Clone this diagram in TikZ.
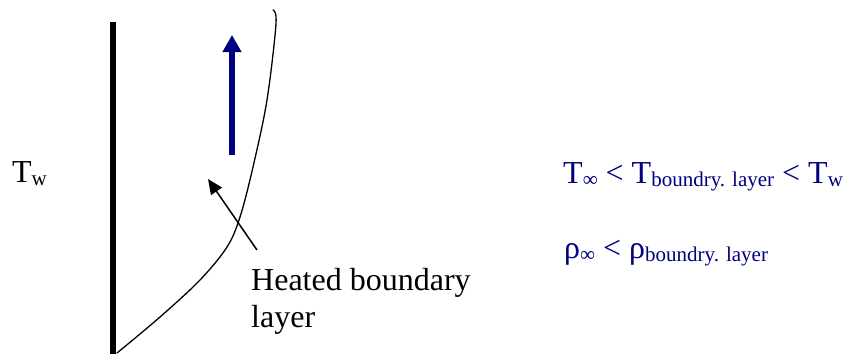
\documentclass[tikz,border=0pt]{standalone}
\usepackage{fontspec}
\setmainfont{Liberation Serif}
\usetikzlibrary{arrows.meta}
\definecolor{flowblue}{RGB}{0,0,128}
\newcommand{\lsub}[1]{\raisebox{-3pt}{\fontsize{21}{21}\selectfont #1}}
\begin{document}
\begin{tikzpicture}[x=1pt,y=-1pt,line join=round,font=\fontsize{32}{37}\selectfont,
  lbl/.style={inner sep=0pt,anchor=base west}]
\useasboundingbox (0,0) rectangle (847,354);
% wall and boundary layer edge
\draw[line width=6pt] (113,22) -- (113,354);
\draw[line width=1.3pt,line cap=round] plot[smooth,tension=0.55] coordinates
  {(273,10) (276,24) (267,100) (253,167) (240,217) (227,247) (200,280) (160,317) (117,353)};
% rising flow
\coordinate (flowlow) at (232,155);
\coordinate (flowtop) at (232,35);
\draw[flowblue,line width=6.5pt,-{Triangle[width=18pt,length=17pt]}] (flowlow) -- (flowtop);
% labels
\node[lbl] (tw) at (12,182) {T\lsub{w}};
\node[lbl,align=left] (heated) at (251,327) {Heated boundary\\layer};
\coordinate (heatfoot) at (257,250);
\coordinate (heattip) at (208,179);
\draw[line width=1.5pt,-{Triangle[width=13pt,length=15pt]}] (heatfoot) -- (heattip);
\node[lbl,text=flowblue] (tline) at (563,183) {T\lsub{∞} < T\lsub{boundry. layer} < T\lsub{w}};
\node[lbl,text=flowblue] (rholine) at (564,258) {ρ\lsub{∞} < ρ\lsub{boundry. layer}};
\end{tikzpicture}
\end{document}
